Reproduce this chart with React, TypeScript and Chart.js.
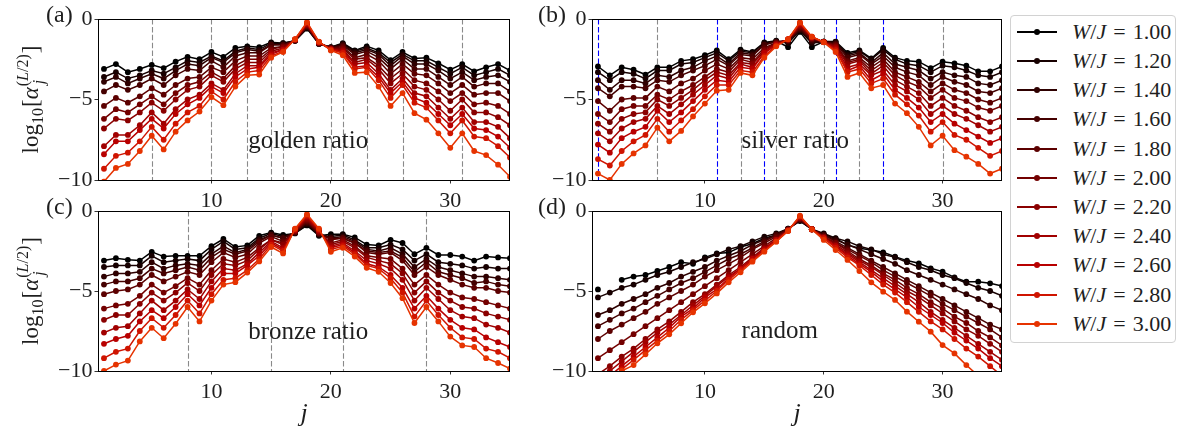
import React, { useEffect, useRef } from 'react';
import { Chart, registerables } from 'chart.js';

Chart.register(...registerables);

const FONT = '"Liberation Serif", "Times New Roman", serif';
const TEXT_COLOR = '#1e1e1e';

// ---------------- data ----------------
const J_VALUES = [1, 2, 3, 4, 5, 6, 7, 8, 9, 10, 11, 12, 13, 14, 15, 16, 17, 18, 19, 20, 21, 22, 23, 24, 25, 26, 27, 28, 29, 30, 31, 32, 33, 34, 35];
const W_VALUES = ['1.00', '1.20', '1.40', '1.60', '1.80', '2.00', '2.20', '2.40', '2.60', '2.80', '3.00'];
const SERIES_COLORS = ['#000000', '#170000', '#2e0000', '#450000', '#5c0000', '#730000', '#8a0000', '#a10000', '#b80000', '#cf1400', '#e63300'];
const X_TICKS = [10, 20, 30];
const Y_TICKS = [-10, -5, 0];

const GOLDEN_DASHED = [5, 10, 13, 15, 16, 20, 21, 23, 26, 31];
const SILVER_DASHED_GRAY = [6, 13, 16, 20, 23, 30];
const SILVER_DASHED_BLUE = [1, 11, 15, 21, 25];
const BRONZE_DASHED = [8, 15, 21, 28];
const RANDOM_DASHED: number[] = [];

// log10[alpha_j^(L/2)], one row per W/J value (1.00 ... 3.00)
const GOLDEN_SERIES = [
  [-3.1, -2.8, -3.3, -3.1, -2.85, -3.05, -2.65, -2.35, -2.5, -2.05, -2.35, -1.8, -1.7, -1.75, -1.45, -1.5, -1.35, -0.6, -1.55, -1.75, -1.5, -1.95, -1.7, -1.95, -2.55, -2.05, -2.45, -2.4, -2.75, -3.15, -2.8, -3.25, -3.0, -2.8, -3.2],
  [-3.6, -3.3, -3.7, -3.5, -3.2, -3.4, -3.0, -2.6, -2.7, -2.3, -2.6, -2.0, -1.8, -1.9, -1.5, -1.5, -1.35, -0.56, -1.54, -1.76, -1.54, -2.0, -1.8, -2.1, -2.7, -2.2, -2.6, -2.6, -3.0, -3.4, -3.0, -3.5, -3.3, -3.1, -3.5],
  [-3.9, -3.6, -4.0, -3.7, -3.4, -3.7, -3.2, -2.8, -2.9, -2.4, -2.7, -2.1, -1.9, -2.0, -1.6, -1.6, -1.34, -0.52, -1.53, -1.77, -1.58, -2.1, -1.9, -2.2, -2.9, -2.3, -2.8, -2.8, -3.2, -3.7, -3.3, -3.8, -3.6, -3.5, -3.9],
  [-4.5, -4.1, -4.4, -4.1, -3.7, -4.1, -3.5, -3.1, -3.2, -2.6, -3.0, -2.3, -2.1, -2.1, -1.6, -1.6, -1.33, -0.48, -1.52, -1.79, -1.64, -2.2, -2.0, -2.4, -3.1, -2.5, -3.1, -3.1, -3.6, -4.1, -3.6, -4.2, -4.0, -4.0, -4.5],
  [-5.4, -4.9, -5.2, -4.8, -4.3, -4.7, -4.1, -3.7, -3.6, -3.0, -3.3, -2.6, -2.3, -2.3, -1.8, -1.7, -1.32, -0.44, -1.51, -1.81, -1.72, -2.4, -2.2, -2.6, -3.4, -2.8, -3.4, -3.5, -4.0, -4.6, -4.1, -4.7, -4.6, -4.6, -5.1],
  [-6.2, -5.6, -5.8, -5.3, -4.8, -5.3, -4.6, -4.1, -3.9, -3.3, -3.7, -2.9, -2.5, -2.5, -1.9, -1.7, -1.31, -0.4, -1.49, -1.83, -1.81, -2.5, -2.4, -2.9, -3.7, -3.1, -3.8, -4.0, -4.5, -5.1, -4.6, -5.3, -5.2, -5.4, -5.9],
  [-6.8, -6.2, -6.3, -5.8, -5.2, -5.7, -5.0, -4.4, -4.2, -3.5, -3.9, -3.1, -2.7, -2.7, -2.0, -1.8, -1.3, -0.36, -1.47, -1.85, -1.89, -2.7, -2.5, -3.1, -4.0, -3.4, -4.2, -4.4, -5.0, -5.7, -5.0, -5.8, -5.8, -6.1, -6.6],
  [-7.9, -7.2, -7.2, -6.6, -5.8, -6.5, -5.6, -5.0, -4.7, -4.0, -4.4, -3.4, -2.9, -2.9, -2.1, -1.9, -1.28, -0.32, -1.46, -1.88, -1.97, -2.8, -2.7, -3.4, -4.4, -3.7, -4.6, -4.8, -5.5, -6.2, -5.5, -6.4, -6.4, -6.7, -7.4],
  [-8.4, -7.6, -7.6, -6.9, -6.2, -6.8, -5.9, -5.3, -4.9, -4.2, -4.6, -3.6, -3.1, -3.0, -2.2, -1.9, -1.27, -0.28, -1.44, -1.89, -2.04, -3.0, -2.9, -3.6, -4.6, -3.9, -4.9, -5.2, -5.9, -6.6, -5.9, -6.8, -6.9, -7.3, -8.0],
  [-9.3, -8.5, -8.3, -7.6, -6.7, -7.5, -6.5, -5.8, -5.4, -4.5, -5.0, -3.9, -3.3, -3.2, -2.3, -2.0, -1.26, -0.24, -1.43, -1.91, -2.11, -3.1, -3.0, -3.8, -4.9, -4.1, -5.2, -5.5, -6.3, -7.1, -6.3, -7.3, -7.4, -7.9, -8.6],
  [-10.1, -9.25, -9.0, -8.2, -7.25, -8.1, -7.0, -6.3, -5.75, -4.85, -5.35, -4.2, -3.5, -3.45, -2.4, -2.05, -1.25, -0.2, -1.4, -1.95, -2.25, -3.35, -3.3, -4.2, -5.4, -4.6, -5.85, -6.25, -7.1, -8.0, -7.1, -8.2, -8.45, -9.05, -9.8],
];

const SILVER_SERIES = [
  [-2.95, -3.5, -3.0, -3.15, -3.45, -3.0, -3.0, -2.6, -2.5, -2.25, -1.95, -2.5, -1.9, -2.05, -1.45, -1.35, -1.75, -0.8, -1.75, -1.4, -1.4, -2.1, -1.95, -2.45, -1.8, -2.4, -2.6, -2.65, -3.05, -2.65, -2.75, -2.9, -3.25, -3.25, -2.95],
  [-3.3, -3.8, -3.3, -3.4, -3.7, -3.2, -3.2, -2.8, -2.7, -2.4, -2.1, -2.6, -2.0, -2.1, -1.5, -1.37, -1.5, -0.72, -1.5, -1.4, -1.43, -2.2, -2.0, -2.5, -1.9, -2.5, -2.8, -2.9, -3.3, -2.9, -3.0, -3.2, -3.5, -3.6, -3.3],
  [-3.8, -4.4, -3.8, -3.8, -4.0, -3.5, -3.6, -3.2, -3.0, -2.6, -2.3, -2.8, -2.1, -2.2, -1.6, -1.4, -1.4, -0.66, -1.4, -1.41, -1.48, -2.3, -2.1, -2.7, -2.1, -2.8, -3.0, -3.2, -3.7, -3.3, -3.5, -3.6, -4.0, -4.1, -3.8],
  [-4.3, -4.8, -4.2, -4.2, -4.3, -3.8, -3.9, -3.5, -3.2, -2.9, -2.5, -2.9, -2.2, -2.3, -1.6, -1.42, -1.35, -0.6, -1.3, -1.41, -1.54, -2.4, -2.2, -2.8, -2.3, -3.0, -3.3, -3.5, -4.1, -3.6, -3.9, -4.1, -4.5, -4.6, -4.3],
  [-5.1, -5.7, -5.0, -4.9, -4.9, -4.2, -4.5, -4.0, -3.7, -3.2, -2.8, -3.1, -2.4, -2.5, -1.8, -1.47, -1.3, -0.54, -1.25, -1.42, -1.6, -2.6, -2.4, -3.0, -2.5, -3.3, -3.6, -3.9, -4.5, -4.0, -4.4, -4.6, -5.0, -5.2, -4.9],
  [-5.9, -6.4, -5.6, -5.4, -5.4, -4.7, -5.0, -4.5, -4.1, -3.6, -3.1, -3.3, -2.5, -2.7, -1.9, -1.5, -1.3, -0.48, -1.2, -1.42, -1.65, -2.7, -2.5, -3.2, -2.7, -3.5, -3.9, -4.2, -4.9, -4.4, -4.9, -5.1, -5.5, -5.7, -5.4],
  [-6.5, -7.0, -6.2, -5.9, -5.8, -5.0, -5.4, -4.9, -4.4, -3.8, -3.3, -3.5, -2.7, -2.8, -2.0, -1.54, -1.28, -0.42, -1.18, -1.42, -1.72, -2.8, -2.6, -3.4, -2.9, -3.8, -4.2, -4.6, -5.4, -4.9, -5.4, -5.7, -6.1, -6.4, -6.1],
  [-7.1, -7.6, -6.8, -6.4, -6.2, -5.4, -5.9, -5.3, -4.7, -4.1, -3.5, -3.7, -2.8, -3.0, -2.1, -1.57, -1.27, -0.36, -1.15, -1.43, -1.78, -3.0, -2.8, -3.5, -3.2, -4.1, -4.5, -5.0, -5.9, -5.4, -5.9, -6.2, -6.6, -7.0, -6.7],
  [-7.8, -8.3, -7.4, -7.0, -6.7, -5.7, -6.4, -5.8, -5.1, -4.4, -3.8, -3.9, -3.0, -3.1, -2.1, -1.61, -1.26, -0.3, -1.12, -1.44, -1.86, -3.2, -2.9, -3.8, -3.4, -4.4, -4.9, -5.5, -6.4, -5.9, -6.5, -6.9, -7.3, -7.7, -7.4],
  [-8.7, -9.1, -8.2, -7.6, -7.2, -6.2, -7.0, -6.3, -5.6, -4.8, -4.1, -4.1, -3.2, -3.3, -2.3, -1.65, -1.25, -0.25, -1.1, -1.44, -1.93, -3.3, -3.1, -4.0, -3.7, -4.7, -5.3, -6.0, -7.0, -6.4, -7.2, -7.5, -8.0, -8.5, -8.2],
  [-9.6, -10.0, -9.0, -8.35, -7.85, -6.75, -7.6, -6.95, -6.05, -5.25, -4.45, -4.4, -3.35, -3.5, -2.4, -1.7, -1.25, -0.2, -1.1, -1.45, -2.05, -3.6, -3.35, -4.3, -4.1, -5.25, -5.85, -6.7, -7.85, -7.25, -8.15, -8.55, -9.0, -9.6, -9.3],
];

const BRONZE_SERIES = [
  [-3.1, -2.95, -3.05, -3.1, -2.55, -2.85, -2.8, -2.8, -2.8, -2.2, -1.75, -2.25, -2.15, -1.55, -1.35, -1.5, -1.4, -0.9, -1.55, -1.45, -1.45, -1.65, -2.1, -2.15, -1.8, -2.0, -2.7, -2.3, -2.75, -2.75, -2.85, -3.1, -2.85, -2.9, -2.95],
  [-3.5, -3.4, -3.4, -3.4, -2.8, -3.2, -3.1, -3.0, -3.1, -2.4, -1.9, -2.4, -2.3, -1.7, -1.4, -1.6, -1.38, -0.85, -1.5, -1.6, -1.5, -1.8, -2.3, -2.3, -2.1, -2.4, -3.1, -2.7, -3.2, -3.3, -3.4, -3.6, -3.5, -3.6, -3.6],
  [-4.1, -3.9, -3.9, -3.8, -3.2, -3.6, -3.4, -3.3, -3.4, -2.7, -2.2, -2.6, -2.4, -1.8, -1.5, -1.7, -1.36, -0.78, -1.46, -1.7, -1.6, -1.9, -2.4, -2.5, -2.3, -2.7, -3.5, -3.0, -3.5, -3.7, -3.9, -4.1, -4.1, -4.2, -4.3],
  [-4.6, -4.4, -4.4, -4.2, -3.6, -3.9, -3.7, -3.5, -3.7, -2.9, -2.4, -2.7, -2.5, -1.9, -1.5, -1.7, -1.34, -0.72, -1.42, -1.7, -1.7, -2.0, -2.5, -2.6, -2.5, -2.9, -3.8, -3.2, -3.8, -4.0, -4.2, -4.5, -4.4, -4.6, -4.7],
  [-5.2, -5.0, -4.9, -4.6, -4.0, -4.4, -4.1, -3.8, -4.0, -3.2, -2.6, -2.9, -2.7, -2.0, -1.6, -1.9, -1.31, -0.65, -1.38, -1.8, -1.7, -2.0, -2.6, -2.7, -2.6, -3.1, -4.0, -3.5, -4.0, -4.3, -4.6, -4.8, -4.8, -5.0, -5.1],
  [-6.1, -5.9, -5.8, -5.3, -4.6, -5.1, -4.7, -4.2, -4.6, -3.7, -3.0, -3.2, -2.9, -2.3, -1.8, -2.0, -1.27, -0.58, -1.34, -2.0, -1.8, -2.2, -2.8, -2.9, -3.0, -3.6, -4.6, -4.0, -4.6, -5.1, -5.4, -5.5, -5.7, -5.9, -6.1],
  [-6.8, -6.5, -6.5, -5.8, -5.1, -5.6, -5.1, -4.5, -5.0, -4.0, -3.3, -3.4, -3.1, -2.4, -1.8, -2.1, -1.24, -0.5, -1.3, -2.1, -1.9, -2.3, -2.9, -3.1, -3.3, -3.9, -5.1, -4.4, -5.1, -5.6, -6.0, -6.1, -6.4, -6.6, -6.8],
  [-7.6, -7.3, -7.2, -6.4, -5.6, -6.2, -5.6, -4.9, -5.5, -4.4, -3.6, -3.7, -3.3, -2.6, -1.9, -2.3, -1.2, -0.42, -1.25, -2.2, -2.0, -2.5, -3.1, -3.3, -3.6, -4.3, -5.6, -4.8, -5.5, -6.2, -6.6, -6.7, -7.1, -7.3, -7.6],
  [-8.3, -8.0, -7.8, -6.9, -6.2, -6.7, -6.0, -5.2, -5.9, -4.8, -3.9, -3.9, -3.4, -2.8, -2.0, -2.4, -1.17, -0.35, -1.2, -2.3, -2.1, -2.6, -3.3, -3.5, -4.0, -4.8, -6.1, -5.3, -6.1, -6.8, -7.3, -7.4, -7.9, -8.2, -8.5],
  [-9.2, -8.8, -8.6, -7.5, -6.7, -7.3, -6.5, -5.6, -6.4, -5.2, -4.3, -4.2, -3.7, -3.0, -2.1, -2.5, -1.14, -0.28, -1.15, -2.4, -2.2, -2.7, -3.4, -3.6, -4.2, -5.1, -6.6, -5.6, -6.5, -7.3, -7.9, -8.0, -8.6, -8.8, -9.2],
  [-10.0, -9.6, -9.35, -8.15, -7.3, -7.95, -7.05, -6.0, -6.9, -5.6, -4.6, -4.45, -3.85, -3.15, -2.25, -2.65, -1.1, -0.2, -1.1, -2.55, -2.3, -2.85, -3.55, -3.8, -4.5, -5.45, -7.0, -6.0, -6.9, -7.85, -8.4, -8.5, -9.2, -9.5, -9.85],
];

const RANDOM_SERIES = [
  [-4.9, null, -4.3, -4.1, -4.0, -3.75, -3.5, -3.2, -3.3, -2.9, -2.65, -2.6, -2.25, -2.05, -1.7, -1.5, -1.1, -0.63, -1.13, -1.46, -1.71, -2.13, -2.33, -2.44, -2.58, -2.85, -3.1, -3.27, -3.58, -3.79, -4.15, -4.42, -4.42, -4.52, -4.69],
  [-5.4, -5.1, -4.8, -4.6, -4.3, -4.0, -3.8, -3.5, -3.2, -3.0, -2.7, -2.4, -2.2, -1.9, -1.6, -1.4, -1.1, -0.6, -1.14, -1.4, -1.7, -1.9, -2.2, -2.4, -2.7, -2.9, -3.2, -3.5, -3.7, -4.0, -4.2, -4.5, -4.8, -5.0, -5.3],
  [-6.5, -6.2, -5.8, -5.5, -5.2, -4.8, -4.5, -4.1, -3.8, -3.5, -3.1, -2.8, -2.5, -2.1, -1.8, -1.5, -1.12, -0.57, -1.14, -1.5, -1.8, -2.1, -2.4, -2.7, -3.0, -3.3, -3.7, -4.0, -4.3, -4.6, -4.9, -5.2, -5.5, -5.9, -6.2],
  [-7.2, -6.8, -6.4, -6.1, -5.7, -5.3, -4.9, -4.5, -4.2, -3.8, -3.4, -3.0, -2.7, -2.3, -1.9, -1.5, -1.14, -0.54, -1.14, -1.5, -1.9, -2.3, -2.7, -3.1, -3.5, -3.9, -4.3, -4.7, -5.1, -5.5, -5.9, -6.3, -6.7, -7.1, -7.4],
  [-8.0, -7.5, -7.1, -6.7, -6.3, -5.8, -5.4, -5.0, -4.6, -4.1, -3.7, -3.3, -2.9, -2.4, -2.0, -1.6, -1.16, -0.5, -1.14, -1.6, -2.0, -2.4, -2.8, -3.2, -3.7, -4.1, -4.5, -4.9, -5.3, -5.8, -6.2, -6.6, -7.0, -7.4, -7.9],
  [-9.2, -8.7, -8.2, -7.7, -7.2, -6.7, -6.2, -5.7, -5.2, -4.7, -4.2, -3.7, -3.2, -2.7, -2.2, -1.7, -1.18, -0.47, -1.14, -1.6, -2.0, -2.5, -3.0, -3.4, -3.9, -4.3, -4.8, -5.2, -5.7, -6.1, -6.6, -7.0, -7.5, -7.9, -8.4],
  [-10.2, -9.7, -9.1, -8.6, -8.0, -7.4, -6.9, -6.3, -5.7, -5.2, -4.6, -4.0, -3.5, -2.9, -2.3, -1.8, -1.2, -0.44, -1.14, -1.6, -2.1, -2.6, -3.1, -3.5, -4.0, -4.5, -5.0, -5.4, -5.9, -6.4, -6.9, -7.4, -7.8, -8.3, -8.8],
  [-10.6, -10.0, -9.4, -8.8, -8.2, -7.6, -7.1, -6.5, -5.9, -5.3, -4.7, -4.1, -3.6, -3.0, -2.4, -1.8, -1.21, -0.4, -1.14, -1.7, -2.2, -2.7, -3.2, -3.7, -4.2, -4.7, -5.2, -5.7, -6.3, -6.8, -7.3, -7.8, -8.3, -8.8, -9.3],
  [-10.9, -10.3, -9.7, -9.1, -8.5, -7.9, -7.3, -6.6, -6.1, -5.4, -4.9, -4.2, -3.6, -3.0, -2.4, -1.8, -1.22, -0.37, -1.14, -1.7, -2.2, -2.8, -3.3, -3.8, -4.4, -4.9, -5.4, -6.0, -6.5, -7.0, -7.6, -8.1, -8.6, -9.2, -9.7],
  [-11.2, -10.6, -9.9, -9.3, -8.7, -8.1, -7.5, -6.8, -6.2, -5.6, -5.0, -4.3, -3.7, -3.1, -2.5, -1.9, -1.23, -0.33, -1.15, -1.7, -2.3, -2.9, -3.4, -4.0, -4.6, -5.1, -5.7, -6.3, -6.9, -7.4, -8.0, -8.6, -9.1, -9.7, -10.3],
  [-11.3, -10.65, -10.0, -9.63, -8.96, -8.27, -7.71, -7.02, -6.33, -5.77, -5.15, -4.46, -3.83, -3.17, -2.54, -1.92, -1.25, -0.29, -1.15, -1.81, -2.44, -3.06, -3.75, -4.46, -5.04, -5.56, -6.29, -6.92, -7.54, -8.38, -8.9, -9.63, -10.3, -10.9, -11.5],
];

// ---------------- layout ----------------
const Y_AXIS_W = 50;

const PANELS = [
  {
    id: 'a', tag: '(a)', series: GOLDEN_SERIES, gray: GOLDEN_DASHED, blue: [] as number[],
    note: 'golden ratio', noteAt: [18.1, -7.6], yLabel: true, xTitle: false,
    canvas: { left: 0, top: 0, width: 520, height: 215 },
    area: { left: 98, top: 19, right: 510, bottom: 180 },
  },
  {
    id: 'b', tag: '(b)', series: SILVER_SERIES, gray: SILVER_DASHED_GRAY, blue: SILVER_DASHED_BLUE,
    note: 'silver ratio', noteAt: [17.6, -7.6], yLabel: false, xTitle: false,
    canvas: { left: 520, top: 0, width: 490, height: 215 },
    area: { left: 592, top: 19, right: 1002, bottom: 180 },
  },
  {
    id: 'c', tag: '(c)', series: BRONZE_SERIES, gray: BRONZE_DASHED, blue: [] as number[],
    note: 'bronze ratio', noteAt: [18.1, -7.6], yLabel: true, xTitle: true,
    canvas: { left: 0, top: 195, width: 520, height: 236 },
    area: { left: 98, top: 211, right: 510, bottom: 371 },
  },
  {
    id: 'd', tag: '(d)', series: RANDOM_SERIES, gray: RANDOM_DASHED, blue: [] as number[],
    note: 'random', noteAt: [16.3, -7.5], yLabel: false, xTitle: true,
    canvas: { left: 520, top: 195, width: 490, height: 236 },
    area: { left: 592, top: 211, right: 1002, bottom: 371 },
  },
];

function drawYLabel(ctx: CanvasRenderingContext2D, cx: number, cy: number) {
  const big = `23px ${FONT}`;
  const bigIt = `italic 23px ${FONT}`;
  const sm = `16px ${FONT}`;
  const smIt = `italic 16px ${FONT}`;
  ctx.save();
  ctx.translate(cx, cy);
  ctx.rotate(-Math.PI / 2);
  ctx.fillStyle = TEXT_COLOR;
  ctx.textBaseline = 'alphabetic';
  ctx.textAlign = 'left';
  const w = (t: string, f: string) => { ctx.font = f; return ctx.measureText(t).width; };
  const supParts: [string, string][] = [['(', sm], ['L', smIt], ['/2)', sm]];
  const supW = supParts.reduce((s, p) => s + w(p[0], p[1]), 0);
  const subW = w('j', smIt);
  const stackW = Math.max(supW, subW + 2);
  const total = w('log', big) + w('10', sm) + 1 + w('[', big) + w('α', bigIt) + 1 + stackW + 1 + w(']', big);
  let x = -total / 2;
  const put = (t: string, f: string, dy: number) => { ctx.font = f; ctx.fillText(t, x, dy); x += ctx.measureText(t).width; };
  put('log', big, 0);
  put('10', sm, 5);
  x += 1;
  put('[', big, 0);
  put('α', bigIt, 0);
  x += 1;
  const sx = x;
  ctx.font = smIt;
  ctx.fillText('j', sx + 2, 6);
  let px = sx;
  supParts.forEach((p) => { ctx.font = p[1]; ctx.fillText(p[0], px, -10); px += ctx.measureText(p[0]).width; });
  x = sx + stackW + 1;
  put(']', big, 0);
  ctx.restore();
}

function makeDecorPlugin(spec: any) {
  const ox = spec.canvas.left;
  const oy = spec.canvas.top;
  return {
    id: 'panelDecor' + spec.id,
    beforeDatasetsDraw(chart: any) {
      const { ctx, chartArea, scales } = chart;
      ctx.save();
      ctx.lineWidth = 1.1;
      ctx.setLineDash([5.5, 2.4]);
      const drawV = (v: number, color: string) => {
        const x = Math.round(scales.x.getPixelForValue(v)) + 0.5;
        ctx.strokeStyle = color;
        ctx.beginPath();
        ctx.moveTo(x, chartArea.top);
        ctx.lineTo(x, chartArea.bottom);
        ctx.stroke();
      };
      spec.gray.forEach((v: number) => drawV(v, '#8a8a8a'));
      spec.blue.forEach((v: number) => drawV(v, '#0000ff'));
      ctx.restore();
    },
    afterDraw(chart: any) {
      const { ctx, chartArea, scales } = chart;
      ctx.save();
      // frame
      ctx.strokeStyle = '#000';
      ctx.lineWidth = 1;
      ctx.strokeRect(Math.round(chartArea.left) + 0.5, Math.round(chartArea.top) + 0.5,
        Math.round(chartArea.right - chartArea.left) - 1, Math.round(chartArea.bottom - chartArea.top));
      // annotation
      ctx.fillStyle = TEXT_COLOR;
      ctx.font = `25px ${FONT}`;
      ctx.textAlign = 'center';
      ctx.textBaseline = 'middle';
      ctx.fillText(spec.note, scales.x.getPixelForValue(spec.noteAt[0]), scales.y.getPixelForValue(spec.noteAt[1]));
      // panel tag
      ctx.font = `24px ${FONT}`;
      ctx.textAlign = 'left';
      ctx.textBaseline = 'middle';
      const tagX = (spec.id === 'a' || spec.id === 'c') ? 46 : 538;
      const tagY = (spec.id === 'a' || spec.id === 'b') ? 15.5 : 207.5;
      ctx.fillText(spec.tag, tagX - ox, tagY - oy);
      // x title
      if (spec.xTitle) {
        ctx.font = `italic 26px ${FONT}`;
        ctx.textAlign = 'center';
        ctx.textBaseline = 'middle';
        ctx.fillText('j', (chartArea.left + chartArea.right) / 2, 414 - oy);
      }
      ctx.restore();
      if (spec.yLabel) {
        drawYLabel(ctx, 38 - ox, (chartArea.top + chartArea.bottom) / 2);
      }
    },
  };
}

function Panel({ spec }: { spec: any }) {
  const ref = useRef<HTMLCanvasElement>(null);
  useEffect(() => {
    const c = spec.canvas;
    const a = spec.area;
    const padLeft = a.left - c.left - Y_AXIS_W;
    const padTop = a.top - c.top;
    const padRight = c.left + c.width - a.right;
    const xAxisH = 30;
    const padBottom = c.top + c.height - a.bottom - xAxisH;
    const datasets = spec.series.map((vals: (number | null)[], k: number) => ({
      label: 'W/J = ' + W_VALUES[k],
      data: J_VALUES.map((j, i) => ({ x: j, y: vals[i] })),
      borderColor: SERIES_COLORS[k],
      backgroundColor: SERIES_COLORS[k],
      pointBackgroundColor: SERIES_COLORS[k],
      pointBorderColor: SERIES_COLORS[k],
      pointRadius: 2.9,
      pointBorderWidth: 0,
      pointHoverRadius: 2.9,
      borderWidth: 1.5,
      tension: 0,
      spanGaps: false,
      clip: 0,
      order: 10 - k,
    }));
    const chart = new Chart(ref.current as HTMLCanvasElement, {
      type: 'line',
      data: { datasets },
      options: {
        animation: false,
        responsive: false,
        devicePixelRatio: 1,
        events: [],
        layout: { padding: { left: padLeft, top: padTop, right: padRight, bottom: padBottom } },
        plugins: { legend: { display: false }, tooltip: { enabled: false } },
        scales: {
          x: {
            type: 'linear',
            min: 0.5,
            max: 35,
            afterBuildTicks: (scale: any) => { scale.ticks = X_TICKS.map((v) => ({ value: v })); },
            afterFit: (scale: any) => { scale.height = xAxisH; },
            grid: { display: true, drawOnChartArea: false, drawTicks: true, tickLength: 3.5, color: '#000', lineWidth: 0.8 },
            border: { display: false },
            ticks: { font: { family: FONT, size: 22 }, color: TEXT_COLOR, padding: 5, maxRotation: 0, autoSkip: false },
          },
          y: {
            type: 'linear',
            min: -10,
            max: 0,
            afterBuildTicks: (scale: any) => { scale.ticks = Y_TICKS.map((v) => ({ value: v })); },
            afterFit: (scale: any) => { scale.width = Y_AXIS_W; },
            grid: { display: true, drawOnChartArea: false, drawTicks: true, tickLength: 3.5, color: '#000', lineWidth: 0.8 },
            border: { display: false },
            ticks: {
              font: { family: FONT, size: 22 }, color: TEXT_COLOR, padding: 2,
              callback: (v: any) => (Number(v) === 0 ? '0' : '\u2212' + Math.abs(Number(v))),
            },
          },
        },
      },
      plugins: [makeDecorPlugin(spec)],
    } as any);
    return () => chart.destroy();
  }, [spec]);
  return (
    <canvas
      ref={ref}
      width={spec.canvas.width}
      height={spec.canvas.height}
      style={{ position: 'absolute', left: spec.canvas.left, top: spec.canvas.top, width: spec.canvas.width, height: spec.canvas.height }}
    />
  );
}

function Legend() {
  const rowY0 = 31.7;
  const rowStep = 29.2;
  return (
    <div>
      <div style={{ position: 'absolute', left: 1010, top: 15, width: 166, height: 328, border: '1px solid #d2d2d2', borderRadius: 4, boxSizing: 'border-box', background: '#fff' }} />
      {W_VALUES.map((w, k) => {
        const cy = rowY0 + rowStep * k;
        const lineTop = Math.round(cy) - 1;
        return (
          <div key={w}>
            <div style={{ position: 'absolute', left: 1017, top: lineTop, width: 40, height: 2, background: SERIES_COLORS[k] }} />
            <div style={{ position: 'absolute', left: 1034, top: lineTop - 2, width: 6, height: 6, borderRadius: '50%', background: SERIES_COLORS[k] }} />
            <div style={{ position: 'absolute', left: 1072, top: cy - 13, height: 26, lineHeight: '26px', fontFamily: FONT, fontSize: 22, color: TEXT_COLOR, whiteSpace: 'nowrap' }}>
              <span style={{ fontStyle: 'italic' }}>W</span>
              <span>/</span>
              <span style={{ fontStyle: 'italic' }}>J</span>
              <span style={{ margin: '0 7px' }}>=</span>
              <span>{w}</span>
            </div>
          </div>
        );
      })}
    </div>
  );
}

export default function App() {
  return (
    <div style={{ position: 'absolute', left: 0, top: 0, width: 1180, height: 431, background: '#fff', overflow: 'hidden' }}>
      {PANELS.map((p) => <Panel key={p.id} spec={p} />)}
      <Legend />
    </div>
  );
}
